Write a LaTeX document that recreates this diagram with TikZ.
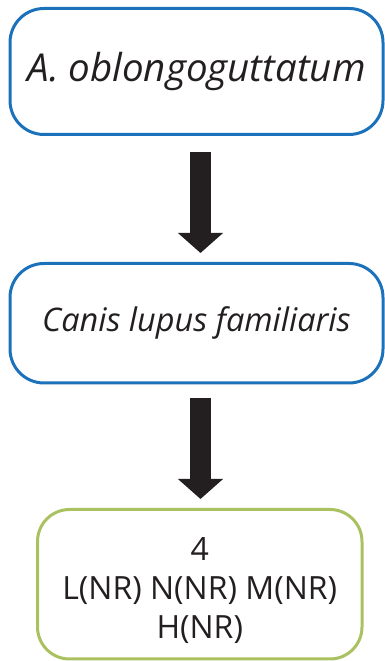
\documentclass[tikz,border=0pt]{standalone}
\usepackage{fontspec}
\setmainfont{Open Sans}
\usetikzlibrary{arrows.meta}
\definecolor{boxblue}{RGB}{28,114,186}
\definecolor{boxgreen}{RGB}{170,193,96}
\definecolor{arrowgray}{RGB}{35,31,32}
\begin{document}
\begin{tikzpicture}[x=1pt,y=1pt,
  taxon/.style={draw=boxblue, line width=3pt, rounded corners=34pt,
    minimum width=373pt, inner sep=0pt, text=arrowgray},
  result/.style={draw=boxgreen, line width=3pt, rounded corners=32pt,
    minimum width=324.5pt, minimum height=149.5pt, inner sep=0pt},
  flow/.style={draw=arrowgray, line width=21pt,
    -{Triangle[width=44pt,length=20pt]}}
]
\useasboundingbox (0,0) rectangle (385,661);
% host / vector boxes
\node[taxon, minimum height=126pt, font=\fontsize{38.5}{44}\selectfont\itshape]
  (b1) at (196.5,589.5) {A. oblongoguttatum};
\node[taxon, minimum height=119.5pt, font=\fontsize{32.5}{38}\selectfont\itshape]
  (b2) at (196.5,337.75) {Canis lupus familiaris};
% outcome box
\node[result] (b3) at (199.75,76.75) {};
\node[align=center, text=arrowgray, inner sep=0pt,
  font=\fontsize{32}{39}\selectfont] (b3text) at (199.75,70)
  {4\\L(NR) N(NR) M(NR)\\H(NR)};
% connectors
\coordinate (a1s) at (200.5,509);
\coordinate (a1e) at (200.5,408);
\coordinate (a2s) at (200.5,263);
\coordinate (a2e) at (200.5,162);
\draw[flow] (a1s) -- (a1e);
\draw[flow] (a2s) -- (a2e);
\end{tikzpicture}
\end{document}
